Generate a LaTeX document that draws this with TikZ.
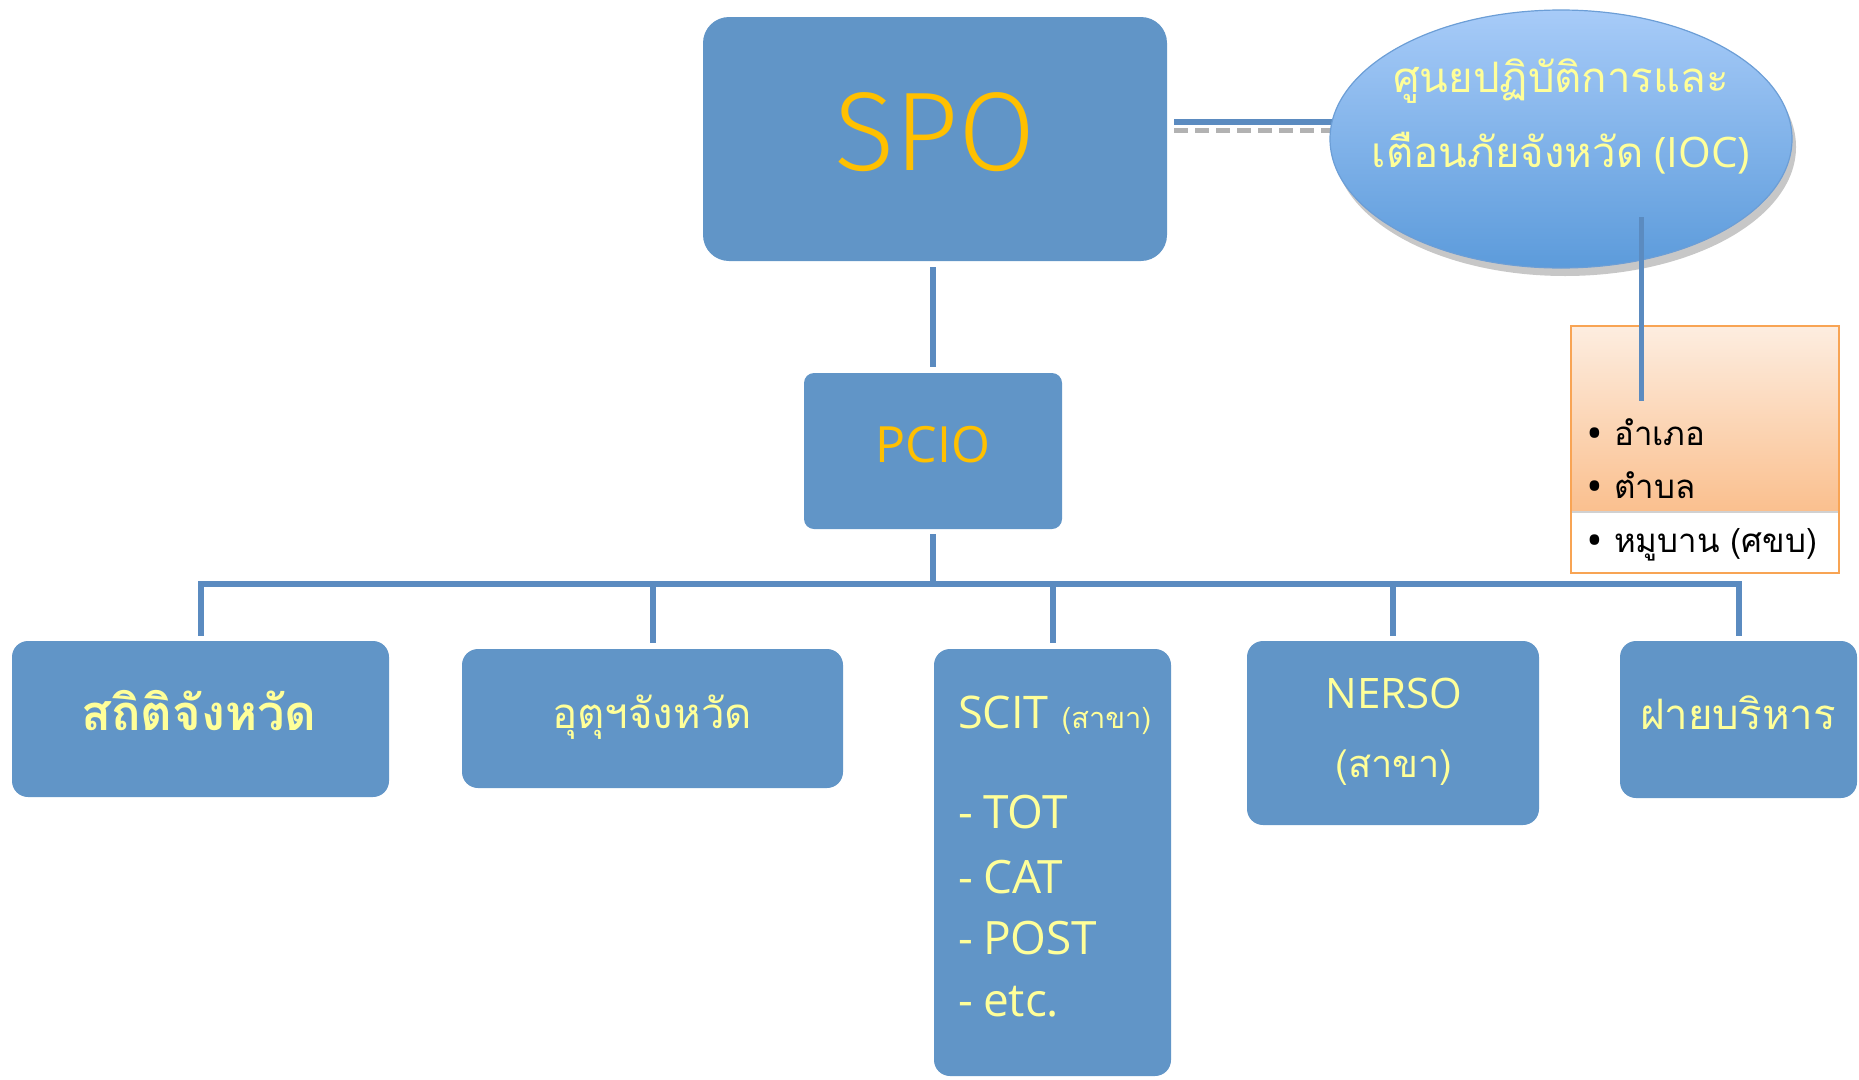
\documentclass[tikz,border=0pt]{standalone}
\usepackage{fontspec}
\setmainfont{Open Sans}
\newfontfamily\thai[Script=Thai]{Loma}
\newfontfamily\spofont{Fira Sans Light}
\usetikzlibrary{shapes.geometric,shadows,backgrounds}
\definecolor{boxblue}{HTML}{6195C7}
\definecolor{lineblue}{HTML}{5B8BC0}
\definecolor{gold}{HTML}{FFC000}
\definecolor{lyellow}{HTML}{FFFF99}
\definecolor{elltop}{HTML}{A7CBF8}
\definecolor{ellbot}{HTML}{5C9BDB}
\definecolor{ellborder}{HTML}{6C9ED6}
\definecolor{ortop}{HTML}{FDEDE0}
\definecolor{orbot}{HTML}{FAC08F}
\definecolor{orborder}{HTML}{F8A454}
\newcommand{\mybul}{\makebox[26pt][l]{\rmfamily\bfseries\fontsize{34}{34}\selectfont •}}
\tikzset{
  box/.style={fill=boxblue, draw=none, rounded corners=16pt, inner sep=0pt},
  conn/.style={draw=lineblue, line width=6pt},
  ytext/.style={text=lyellow, inner sep=0pt},
  gtext/.style={text=gold, inner sep=0pt},
  btext/.style={text=black, inner sep=0pt}
}
\begin{document}
\begin{tikzpicture}[x=1pt,y=-1pt]
\useasboundingbox (0,0) rectangle (1859,1079);

% top
\node[box, rounded corners=26pt, minimum width=464pt, minimum height=244pt] (spo) at (935,139) {};
\node[gtext, anchor=base, font=\spofont\fontsize{112}{112}\selectfont] (spot) at (935,170) {SPO};

\node[box, rounded corners=10pt, minimum width=258pt, minimum height=156pt] (pcio) at (933,451) {};
\node[gtext, anchor=base, font=\fontsize{50}{50}\selectfont] (pciot) at (933,462) {PCIO};

\node[ellipse, minimum width=462pt, minimum height=258pt, draw=ellborder, line width=1.2pt,
  top color=elltop, bottom color=ellbot,
  drop shadow={shadow xshift=4pt, shadow yshift=-8pt, fill=black, opacity=.22}] (ioc) at (1561,139) {};
\node[ytext, anchor=base, font=\thai\fontsize{42}{42}\selectfont] (ioct1) at (1561,92) {ศูนยปฏิบัติการและ};
\node[ytext, anchor=base, font=\fontsize{42}{42}\selectfont] (ioct2) at (1561,167) {{\thai เตือนภัยจังหวัด} (IOC)};

% orange box
\node[fill=white, minimum width=268pt, minimum height=247pt, inner sep=0pt] (obox) at (1705,449.5) {};
\fill[black, opacity=.18] ([yshift=60pt]obox.south west) rectangle ([yshift=66pt]obox.south east);
\fill[top color=ortop, bottom color=orbot] (obox.north west) rectangle ([yshift=63pt]obox.south east);
\draw[orborder, line width=2pt] (obox.north west) rectangle (obox.south east);
\node[btext, anchor=base west, font=\thai\fontsize{33}{33}\selectfont] (ob1) at (1588,445) {\mybul อำเภอ};
\node[btext, anchor=base west, font=\thai\fontsize{33}{33}\selectfont] (ob2) at (1588,498) {\mybul ตำบล};
\node[btext, anchor=base west, font=\thai\fontsize{33}{33}\selectfont] (ob3) at (1588,552) {\mybul หมูบาน (ศขบ)};

% bottom boxes
\node[box, minimum width=377pt, minimum height=156pt] (b1) at (200.5,719) {};
\node[ytext, anchor=base, font=\thai\bfseries\fontsize{49}{49}\selectfont] (b1t) at (199,730) {สถิติจังหวัด};

\node[box, minimum width=381pt, minimum height=139pt] (b2) at (652.5,718.5) {};
\node[ytext, anchor=base, font=\thai\fontsize{42}{42}\selectfont] (b2t) at (652,728) {อุตุฯจังหวัด};

\node[box, minimum width=237pt, minimum height=427pt] (b3) at (1052.5,862.5) {};
\node[ytext, anchor=base west, font=\fontsize{45}{45}\selectfont] (b3t) at (958,728) {SCIT\hspace{13pt}{\thai\fontsize{29}{29}\selectfont(สาขา)}};
\node[ytext, anchor=base west, font=\fontsize{46}{46}\selectfont] (b3a) at (958,828) {-\hspace{10pt}TOT};
\node[ytext, anchor=base west, font=\fontsize{46}{46}\selectfont] (b3b) at (958,893) {-\hspace{10pt}CAT};
\node[ytext, anchor=base west, font=\fontsize{46}{46}\selectfont] (b3c) at (958,954) {-\hspace{10pt}POST};
\node[ytext, anchor=base west, font=\fontsize{46}{46}\selectfont] (b3d) at (958,1016) {-\hspace{10pt}etc.};

\node[box, minimum width=292pt, minimum height=184pt] (b4) at (1393,733) {};
\node[ytext, anchor=base, font=\fontsize{42}{42}\selectfont] (b4t) at (1394,708) {NERSO};
\node[ytext, anchor=base, font=\thai\fontsize{38}{38}\selectfont] (b4s) at (1394,777) {(สาขา)};

\node[box, minimum width=237pt, minimum height=157pt] (b5) at (1738.5,719.5) {};
\node[ytext, anchor=base, font=\thai\fontsize{42}{42}\selectfont] (b5t) at (1738,729) {ฝายบริหาร};

% connectors
\begin{pgfonlayer}{background}
\draw[conn, preaction={draw=black, opacity=.3, line width=5pt, dash pattern=on 14pt off 7pt, transform canvas={yshift=-8pt}}]
  ([shift={(7pt,17pt)}]spo.east) -- ([yshift=17pt]ioc.center);
\end{pgfonlayer}
\draw[conn] ([yshift=-6pt]pcio.north |- spo.south) -- ([yshift=6pt]pcio.north);
\coordinate (iocp) at (1641,217);
\coordinate (obp) at (1641,401);
\draw[conn, line width=5pt] (iocp) -- (obp);
\coordinate (bus) at (933,584);
\draw[conn] ([yshift=-5pt]pcio.south) -- (bus);
\draw[conn] ([yshift=5pt]b1.north) -- (b1.north |- bus) -- (b5.north |- bus) -- ([yshift=5pt]b5.north);
\draw[conn] (b2.north |- bus) -- ([yshift=6pt]b2.north);
\draw[conn] (b3.north |- bus) -- ([yshift=6pt]b3.north);
\draw[conn] (b4.north |- bus) -- ([yshift=5pt]b4.north);
\end{tikzpicture}
\end{document}
